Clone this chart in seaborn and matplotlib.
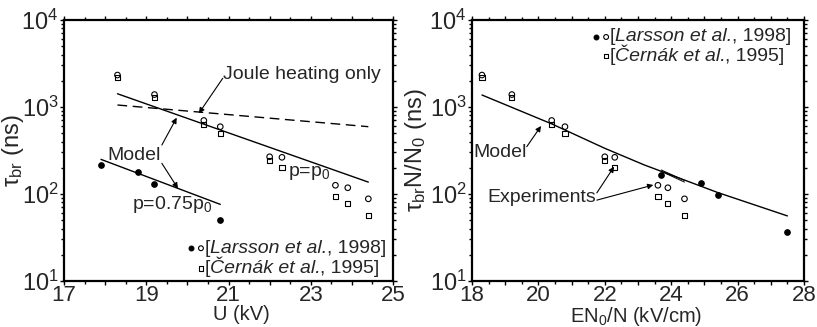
import numpy as np
import pandas as pd
import matplotlib
matplotlib.use("Agg")
import matplotlib.pyplot as plt
import seaborn as sns
from matplotlib.ticker import MultipleLocator, LogLocator, NullFormatter, FuncFormatter
from matplotlib.offsetbox import TextArea, HPacker, AnnotationBbox

sns.set_style("ticks")
plt.rcParams['font.family'] = ['Liberation Sans', 'DejaVu Sans']
plt.rcParams['mathtext.fontset'] = 'custom'
plt.rcParams['mathtext.rm'] = 'Liberation Sans'
plt.rcParams['mathtext.it'] = 'Liberation Sans:italic'
plt.rcParams['mathtext.bf'] = 'Liberation Sans:bold'

# ---------------- data ----------------
# experimental points (open symbols), U in kV (same values used for EN0/N in kV/cm)
exp_x = [18.3, 19.2, 20.4, 20.8, 22.0, 22.3, 23.6, 23.9, 24.4]
larsson_open = [2330, 1390, 700, 594, 268, 264, 126, 118, 88]
cernak_sq = [2180, 1280, 635, 497, 243, 200, 93, 78, 57]

# filled points (p = 0.75 p0)
filled_U = [17.9, 18.8, 19.2, 20.8]
filled_tau = [217, 179, 130, 50]
filled_E = [23.7, 24.9, 25.4, 27.5]
filled_tauN = [164, 133, 97, 37]

# model lines (left)
model_p0_U = [18.3, 24.4]
model_p0_tau = [1420, 137]
model_075_U = [17.9, 20.8]
model_075_tau = [250, 76]
joule_U = [18.3, 24.4]
joule_tau = [1054, 594]

# model line (right)
model_E = [18.3, 20.4, 22.0, 23.2, 25.4, 27.5]
model_tauN = [1374, 640, 335, 215, 104, 56]
seg_E = [23.7, 24.4]
seg_a = [189, 143]
seg_b = [182, 137]

fig = plt.figure(figsize=(8.17, 3.27), dpi=100)
axL = fig.add_axes([64/817, 1-281/327, (393-64)/817, (281-20)/327])
axR = fig.add_axes([472/817, 1-281/327, (804-472)/817, (281-20)/327])

TICK_FS = 17
XTICK_FS = 16
LAB_FS = 14.5
TXT_FS = 14
ms = 16

def style_axis(ax, xmin, xmax, parity):
    ax.set_yscale('log')
    ax.set_ylim(10, 1e4)
    ax.set_xlim(xmin, xmax)
    ax.xaxis.set_major_locator(MultipleLocator(1))
    ax.xaxis.set_minor_locator(MultipleLocator(0.5))
    ax.xaxis.set_major_formatter(FuncFormatter(
        lambda v, p: f"{int(round(v))}" if int(round(v)) % 2 == parity else ""))
    ax.yaxis.set_major_locator(LogLocator(base=10, numticks=10))
    ax.yaxis.set_minor_locator(LogLocator(base=10, subs=np.arange(2, 10), numticks=10))
    ax.yaxis.set_minor_formatter(NullFormatter())
    ax.yaxis.set_major_formatter(FuncFormatter(
        lambda v, p: r"10$^{\mathrm{%d}}$" % int(round(np.log10(v)))))
    for s in ax.spines.values():
        s.set_visible(True)
        s.set_linewidth(1.6)
        s.set_color('black')
    ax.tick_params(which='both', direction='out', top=True, right=True,
                   labelsize=TICK_FS, width=1.0, color='black', pad=1)
    ax.tick_params(axis='x', labelsize=XTICK_FS, pad=0)
    ax.tick_params(which='major', length=3)
    ax.tick_params(which='minor', length=2)
    ax.set_facecolor('white')

def scatter(ax, x, y, marker, fill, size=ms):
    df = pd.DataFrame({'x': x, 'y': y})
    sns.scatterplot(data=df, x='x', y='y', ax=ax, marker=marker, s=size,
                    facecolor=('black' if fill else 'none'),
                    edgecolor='black', linewidth=0.8, legend=False, zorder=3)

def line(ax, x, y, lw=1.0):
    df = pd.DataFrame({'x': x, 'y': y})
    sns.lineplot(data=df, x='x', y='y', ax=ax, color='black', linewidth=lw,
                 sort=False, legend=False, errorbar=None)
    return ax.lines[-1]

def arrow(ax, tip, start):
    ax.annotate('', xy=tip, xytext=start,
                arrowprops=dict(arrowstyle='-|>', color='black', lw=0.8,
                                mutation_scale=8, shrinkA=0, shrinkB=0))

def ref_text(ax, x, y, author, year):
    parts = [TextArea('[', textprops=dict(fontsize=TXT_FS)),
             TextArea(author, textprops=dict(fontsize=TXT_FS, fontstyle='italic')),
             TextArea(', ' + year + ']', textprops=dict(fontsize=TXT_FS))]
    box = HPacker(children=parts, align='baseline', pad=0, sep=0)
    ab = AnnotationBbox(box, (x, y), xycoords='data', box_alignment=(0, 0.5),
                        frameon=False, pad=0)
    ax.add_artist(ab)

# ---------------- left panel ----------------
line(axL, model_p0_U, model_p0_tau)
line(axL, model_075_U, model_075_tau)
ln = line(axL, joule_U, joule_tau)
ln.set_dashes([7, 4])
scatter(axL, exp_x, larsson_open, 'o', False)
scatter(axL, exp_x, cernak_sq, 's', False, 14)
scatter(axL, filled_U, filled_tau, 'o', True)

style_axis(axL, 17, 25, 1)
axL.set_xlabel('U (kV)', fontsize=LAB_FS, va='top')
axL.xaxis.set_label_coords(0.54, -0.091)
axL.set_ylabel(r'$\mathrm{τ_{br}}$ (ns)', fontsize=TICK_FS, va='center')
axL.yaxis.set_label_coords(-0.155, 0.5)

axL.text(20.86, 2335, 'Joule heating only', fontsize=TXT_FS, va='center', ha='left')
arrow(axL, (20.28, 847), (20.86, 2138))
axL.text(18.7, 280, 'Model', fontsize=TXT_FS, va='center', ha='center')
arrow(axL, (19.74, 753), (19.38, 366))
arrow(axL, (19.77, 116), (19.38, 225))
axL.text(18.65, 75, r'p=0.75p$_\mathrm{0}$', fontsize=TXT_FS, va='center', ha='left')
axL.text(22.45, 174, r'p=p$_\mathrm{0}$', fontsize=TXT_FS, va='center', ha='left')

scatter(axL, [20.08], [23.8], 'o', True, 12)
scatter(axL, [20.33], [23.8], 'o', False, 12)
scatter(axL, [20.33], [14.0], 's', False, 11)
ref_text(axL, 20.41, 23.8, 'Larsson et al.', '1998')
ref_text(axL, 20.41, 14.0, 'Černák et al.', '1995')

# ---------------- right panel ----------------
line(axR, model_E, model_tauN)
line(axR, seg_E, seg_a, lw=0.7)
line(axR, seg_E, seg_b, lw=0.7)
scatter(axR, exp_x, larsson_open, 'o', False)
scatter(axR, exp_x, cernak_sq, 's', False, 14)
scatter(axR, filled_E, filled_tauN, 'o', True)

style_axis(axR, 18, 28, 0)
axR.set_xlabel(r'EN$_\mathrm{0}$/N (kV/cm)', fontsize=LAB_FS, va='top')
axR.xaxis.set_label_coords(0.494, -0.091)
axR.set_ylabel(r'$\mathrm{τ_{br}}$N/N$_\mathrm{0}$ (ns)', fontsize=TICK_FS, va='center')
axR.yaxis.set_label_coords(-0.168, 0.5)

axR.text(18.03, 296, 'Model', fontsize=TXT_FS, va='center', ha='left')
arrow(axR, (20.08, 605), (19.65, 350))
axR.text(18.46, 92, 'Experiments', fontsize=TXT_FS, va='center', ha='left')
arrow(axR, (22.28, 206), (21.76, 103))
arrow(axR, (23.46, 127), (21.76, 85))

scatter(axR, [21.73], [6380], 'o', True, 12)
scatter(axR, [22.04], [6380], 'o', False, 12)
scatter(axR, [22.04], [3855], 's', False, 11)
ref_text(axR, 22.14, 6380, 'Larsson et al.', '1998')
ref_text(axR, 22.14, 3855, 'Černák et al.', '1995')

fig.savefig('out.png', dpi=100, facecolor='white')
